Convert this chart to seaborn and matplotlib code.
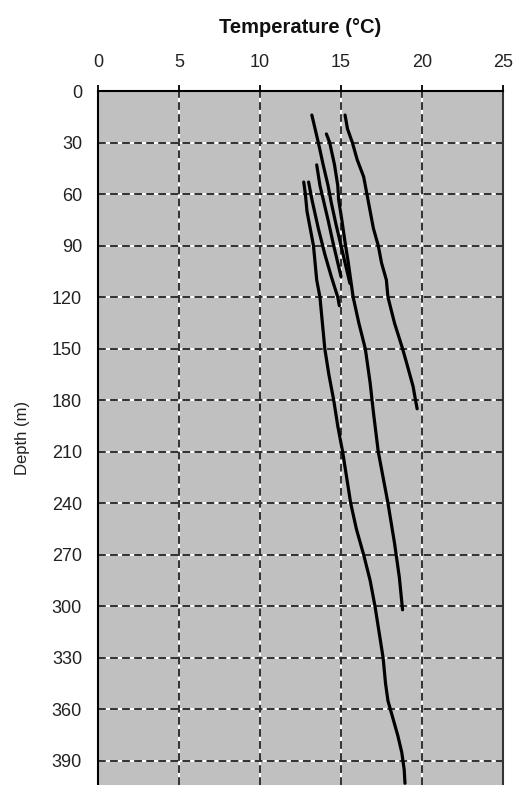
import matplotlib
matplotlib.use("Agg")
import matplotlib.pyplot as plt
import numpy as np
import pandas as pd
import seaborn as sns

# temperature profiles (depth in m, temperature in degC)
depth_a = [14, 22, 30, 40, 50, 60, 70, 80, 90, 100, 110, 120, 135, 150, 160, 172, 180, 185]
temp_a = [15.25, 15.4, 15.7, 16.0, 16.4, 16.6, 16.8, 17.0, 17.3, 17.5, 17.8, 17.9,
          18.3, 18.8, 19.1, 19.45, 19.6, 19.7]

depth_b = [53, 60, 70, 80, 90, 100, 110, 120, 135, 150, 165, 180, 195, 210, 225, 240,
           255, 270, 285, 300, 315, 330, 345, 355, 365, 375, 385, 395, 403]
temp_b = [12.7, 12.8, 12.9, 13.1, 13.3, 13.4, 13.5, 13.7, 13.85, 14.0, 14.25, 14.55,
          14.8, 15.1, 15.35, 15.6, 15.95, 16.4, 16.8, 17.1, 17.35, 17.6, 17.75, 17.9,
          18.2, 18.5, 18.75, 18.9, 18.95]

depth_c = [25, 30, 43, 55, 63, 75, 88, 100, 110, 120, 135, 150, 170, 187, 210, 225,
           240, 263, 283, 302]
temp_c = [14.1, 14.3, 14.6, 14.8, 14.85, 15.05, 15.25, 15.45, 15.6, 15.75, 16.1, 16.5,
          16.8, 17.0, 17.3, 17.6, 17.9, 18.3, 18.6, 18.8]

depth_d = [53, 63, 80, 95, 108, 120, 125]
temp_d = [13.0, 13.2, 13.6, 14.0, 14.4, 14.8, 14.9]

depth_e = [14, 22, 30, 43, 55, 65, 78, 90, 102, 112]
temp_e = [13.2, 13.4, 13.6, 13.9, 14.2, 14.4, 14.7, 15.0, 15.3, 15.55]

depth_g = [43, 55, 63, 75, 88, 100, 108]
temp_g = [13.5, 13.7, 13.9, 14.2, 14.5, 14.8, 15.0]

x_ticks = [0, 5, 10, 15, 20, 25]
y_ticks = list(range(0, 391, 30))

profiles = {"A": (depth_a, temp_a), "B": (depth_b, temp_b), "C": (depth_c, temp_c),
            "D": (depth_d, temp_d), "E": (depth_e, temp_e), "G": (depth_g, temp_g)}

rows = []
for name, (dep, tmp) in profiles.items():
    for d, t in zip(dep, tmp):
        rows.append({"profile": name, "depth": d, "temp": t})
df = pd.DataFrame(rows)

sns.set_style("white")
plt.rcParams["font.family"] = ["Liberation Sans", "DejaVu Sans"]

fig = plt.figure(figsize=(5.15, 7.85), dpi=100)
ax = fig.add_axes([98 / 515, 0.0, 405 / 515, 1 - 91 / 785])
ax.set_facecolor("#c0c0c0")

# dashed grid: dark dashes over white
for xv in x_ticks[1:-1]:
    ax.axvline(xv, color="white", lw=1.4, zorder=1)
    ax.axvline(xv, color="#303030", lw=1.4, ls=(0, (4, 2.2)), zorder=1.1)
for yv in y_ticks[1:]:
    ax.axhline(yv, color="white", lw=1.4, zorder=1)
    ax.axhline(yv, color="#303030", lw=1.4, ls=(0, (4, 2.2)), zorder=1.1)

sns.lineplot(data=df, x="temp", y="depth", units="profile", estimator=None,
             sort=False, color="black", lw=2.3, ax=ax, legend=False, zorder=3)

ax.set_xlim(0, 25)
ax.set_ylim(404, 0)
ax.xaxis.tick_top()
ax.xaxis.set_label_position("top")
ax.set_xticks(x_ticks)
ax.set_yticks(y_ticks)
ax.tick_params(axis="both", direction="inout", length=9, width=1.3, color="black",
               labelsize=13, labelcolor="#222222")
ax.tick_params(axis="x", pad=10)
ax.tick_params(axis="y", pad=7)

ax.set_xlabel("Temperature (°C)", fontsize=14.5, fontweight="bold", labelpad=15,
              color="#111111")
ax.set_ylabel("Depth (m)", fontsize=12, labelpad=16, color="#222222")

for side in ["top", "left"]:
    ax.spines[side].set_color("black")
    ax.spines[side].set_linewidth(1.5)
ax.spines["right"].set_color("#333333")
ax.spines["right"].set_linewidth(1.5)
ax.spines["bottom"].set_visible(False)

fig.savefig("out.png", dpi=100)
